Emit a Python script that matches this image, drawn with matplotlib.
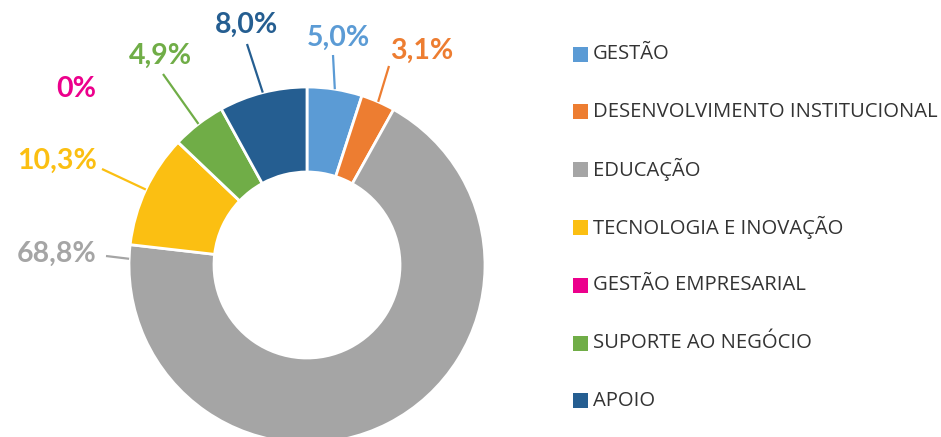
import matplotlib
matplotlib.use("Agg")
import matplotlib.pyplot as plt
import numpy as np
from matplotlib.patches import Rectangle

categories = ["GESTÃO", "DESENVOLVIMENTO INSTITUCIONAL", "EDUCAÇÃO",
              "TECNOLOGIA E INOVAÇÃO", "GESTÃO EMPRESARIAL",
              "SUPORTE AO NEGÓCIO", "APOIO"]
values = [5.0, 3.1, 68.8, 10.3, 0.0, 4.9, 8.0]
value_labels = ["5,0%", "3,1%", "68,8%", "10,3%", "0%", "4,9%", "8,0%"]
colors = ["#5B9BD5", "#ED7D31", "#A5A5A5", "#FBBF12", "#EC008C", "#70AD47", "#255E91"]

W, H = 941, 437
fig = plt.figure(figsize=(W / 100, H / 100), dpi=100)
ax = fig.add_axes([0, 0, 1, 1])

def py(y):  # pixel from top -> data y
    return H - y

cx, cy, R, r_in = 307, 265, 178, 93
wedges, _ = ax.pie(values, colors=colors, startangle=90, counterclock=False,
                   radius=R, center=(cx, py(cy)),
                   wedgeprops=dict(width=R - r_in, edgecolor="white", linewidth=2))
ax.set_xlim(0, W)
ax.set_ylim(0, H)
ax.set_aspect("equal")
ax.axis("off")

# label layout (pixel positions, from top)
label_pos = [(338, 38), (422, 51), (57, 254), (57, 161), (76, 89), (160, 56), (247, 25)]
line_end = [(333, 55), (389, 66), (106, 256), (102, 169), None, (163, 74), (247, 44)]
anchor_override = {2: 178.0}

for i, w in enumerate(wedges):
    tx, ty = label_pos[i]
    ax.text(tx, py(ty), value_labels[i], color=colors[i], fontsize=20.5,
            fontweight="bold", family="Lato", ha="center", va="center")
    if line_end[i] is None:
        continue
    ang = anchor_override.get(i, (w.theta1 + w.theta2) / 2)
    sx = cx + R * np.cos(np.radians(ang))
    sy = py(cy) + R * np.sin(np.radians(ang))
    ex, ey = line_end[i]
    ax.plot([sx, ex], [sy, py(ey)], color=colors[i], lw=1.6, solid_capstyle="butt")

# legend
leg_x, leg_y0, leg_dy, sq = 573, 54, 57.8, 15
for i, cat in enumerate(categories):
    yc = leg_y0 + i * leg_dy
    ax.add_patch(Rectangle((leg_x, py(yc) - sq / 2), sq, sq, color=colors[i], lw=0))
    ax.text(leg_x + sq + 5, py(yc), cat, color="#333333", fontsize=14.6,
            family="Open Sans", ha="left", va="center")

fig.savefig("out.png", dpi=100)
